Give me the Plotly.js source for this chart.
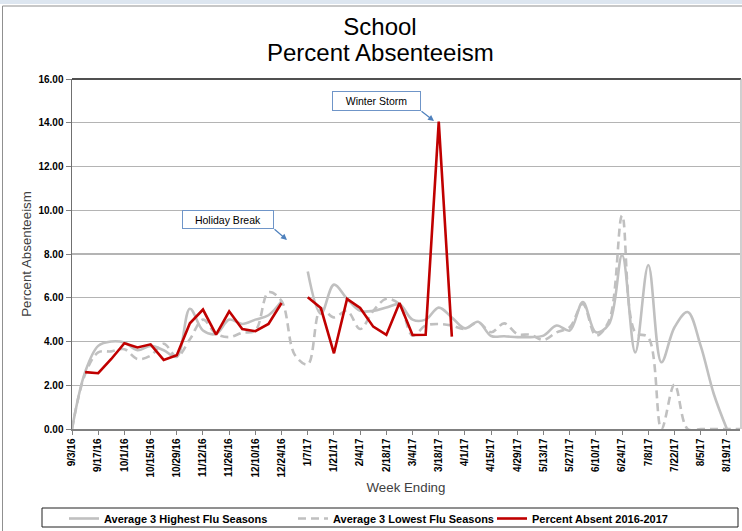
<!DOCTYPE html>
<html>
<head>
<meta charset="utf-8">
<script src="https://cdn.plot.ly/plotly-3.0.1.min.js"></script>
<style>html,body{margin:0;padding:0;background:#fff;}#chart{width:742px;height:531px;}</style>
</head>
<body>
<div id="chart"></div>
<script>
// Week ending dates (x categories)
var weeks = [
 "2016-09-03","2016-09-10","2016-09-17","2016-09-24","2016-10-01","2016-10-08","2016-10-15","2016-10-22",
 "2016-10-29","2016-11-05","2016-11-12","2016-11-19","2016-11-26","2016-12-03","2016-12-10","2016-12-17",
 "2016-12-24","2016-12-31","2017-01-07","2017-01-14","2017-01-21","2017-01-28","2017-02-04","2017-02-11",
 "2017-02-18","2017-02-25","2017-03-04","2017-03-11","2017-03-18","2017-03-25","2017-04-01","2017-04-08",
 "2017-04-15","2017-04-22","2017-04-29","2017-05-06","2017-05-13","2017-05-20","2017-05-27","2017-06-03",
 "2017-06-10","2017-06-17","2017-06-24","2017-07-01","2017-07-08","2017-07-15","2017-07-22","2017-07-29",
 "2017-08-05","2017-08-12","2017-08-19","2017-08-26"
];

// Average 3 Highest Flu Seasons
var highFlu = [
 0, 2.6, 3.8, 4.0, 3.95, 3.6, 3.8, 3.6,
 3.3, 5.5, 4.5, 4.35, 5.0, 4.8, 5.0, 5.2,
 5.85, null, 7.2, 5.26, 6.6, 5.95, 5.4, 5.4,
 5.55, 5.7, 5.0, 5.0, 5.55, 5.1, 4.6, 4.9,
 4.25, 4.24, 4.2, 4.2, 4.27, 4.73, 4.5, 5.8,
 4.42, 4.8, 7.95, 3.5, 7.5, 3.05, 4.65, 5.35,
 3.8, 1.6, 0, null
];

// Average 3 Lowest Flu Seasons
var lowFlu = [
 0, 2.5, 3.5, 3.55, 3.65, 3.2, 3.35, 3.9,
 3.3, 4.1, 5.0, 4.35, 4.2, 4.4, 4.5, 6.25,
 5.85, 3.4, 2.95, 5.5, 5.1, 5.4, 4.57, 5.4,
 5.95, 5.7, 4.27, 4.73, 4.8, 4.73, 4.57, 4.88,
 4.42, 4.83, 4.34, 4.31, 4.07, 4.42, 4.65, 5.72,
 4.27, 4.95, 9.76, 4.42, 4.19, 0, 2.03, 0,
 0, 0, 0, 0
];

// Percent Absent 2016-2017
var absent1617 = [
 null, 2.6, 2.55, 3.2, 3.92, 3.73, 3.87, 3.16,
 3.37, 4.83, 5.46, 4.31, 5.38, 4.57, 4.47, 4.8,
 5.76, null, 6.02, 5.53, 3.46, 5.95, 5.53, 4.68,
 4.3, 5.76, 4.3, 4.31, 14.05, 4.22, null, null,
 null, null, null, null, null, null, null, null,
 null, null, null, null, null, null, null, null,
 null, null, null, null
];

var seriesNames = ["Average 3 Highest Flu Seasons", "Average 3 Lowest Flu Seasons", "Percent Absent 2016-2017"];

// layout geometry (pixels)
var W = 742, H = 531, L = 72, R = 740, T = 79, B = 429;
function px(x){ return (x - L) / (R - L); }
function py(y){ return (B - y) / (B - T); }

var traces = [
 {x: weeks, y: highFlu, name: seriesNames[0], type: 'scatter', mode: 'lines', legend: 'legend',
  line: {color: '#c0c0c0', width: 2.6, shape: 'spline', smoothing: 1}, connectgaps: false},
 {x: weeks, y: lowFlu, name: seriesNames[1], type: 'scatter', mode: 'lines', legend: 'legend2',
  line: {color: '#c0c0c0', width: 2.6, shape: 'spline', smoothing: 1, dash: '8px,5px'}, connectgaps: false},
 {x: weeks, y: absent1617, name: seriesNames[2], type: 'scatter', mode: 'lines', legend: 'legend3',
  line: {color: '#c00000', width: 2.6}, connectgaps: false}
];

var tickFont = {family: '"Liberation Sans", Arial, sans-serif', size: 10, color: '#000', weight: 'bold'};
var axisTitleFont = {family: '"Liberation Sans", Arial, sans-serif', size: 13.3, color: '#404040'};
var legendFont = {family: '"Liberation Sans", Arial, sans-serif', size: 11, color: '#000', weight: 'bold'};

function legendAt(xpx){
 return {orientation: 'h', xref: 'container', yref: 'container', x: xpx / W, xanchor: 'left',
  y: 1 - 504 / H, yanchor: 'top', font: legendFont, bgcolor: 'rgba(0,0,0,0)', borderwidth: 0};
}

var layout = {
 width: W, height: H,
 margin: {l: L, r: W - R, t: T, b: H - B, pad: 0, autoexpand: false},
 paper_bgcolor: '#fff', plot_bgcolor: '#fff',
 showlegend: true,
 title: {text: 'School', x: 380 / W, xanchor: 'center', y: 1 - 27 / H, yanchor: 'middle', yref: 'container',
  font: {family: '"Liberation Sans", Arial, sans-serif', size: 24, color: '#000'}},
 xaxis: {
  type: 'date', range: ['2016-09-03', '2017-08-26'],
  tickmode: 'linear', tick0: '2016-09-03', dtick: 14 * 86400000,
  tickformat: '%-m/%-d/%y', tickangle: -90, tickfont: tickFont,
  ticks: 'outside', ticklen: 4, tickcolor: '#808080', tickwidth: 1,
  showgrid: false, showline: true, linecolor: '#808080', linewidth: 1.5, zeroline: false,
  automargin: false,
  title: {text: 'Week Ending', font: axisTitleFont, standoff: 6}
 },
 yaxis: {
  range: [0, 16], dtick: 2, tickformat: '.2f', tickfont: tickFont,
  ticks: 'outside', ticklen: 5, tickcolor: '#808080', tickwidth: 1,
  showgrid: true, gridcolor: '#b4b4b4', gridwidth: 1.3,
  showline: true, linecolor: '#707070', linewidth: 1.5, zeroline: false,
  automargin: false,
  title: {text: 'Percent Absenteeism', font: axisTitleFont, standoff: 4}
 },
 legend: legendAt(64),
 legend2: legendAt(293),
 legend3: legendAt(492),
 shapes: [
  // top border of plot area
  {type: 'line', xref: 'paper', yref: 'paper', x0: 0, x1: px(741), y0: 1, y1: 1, line: {color: '#505050', width: 2}},
  // right border of plot area
  {type: 'line', xref: 'paper', yref: 'paper', x0: px(741), x1: px(741), y0: 0, y1: 1, line: {color: '#b0b0b0', width: 1.2}},
  // outer chart border
  {type: 'line', xref: 'paper', yref: 'paper', x0: px(2.5), x1: px(742), y0: py(6), y1: py(6), line: {color: '#909090', width: 1}},
  {type: 'line', xref: 'paper', yref: 'paper', x0: px(2.5), x1: px(2.5), y0: py(6), y1: py(531), line: {color: '#909090', width: 1}},
  // light strip at top
  {type: 'rect', xref: 'paper', yref: 'paper', x0: px(0), x1: px(742), y0: py(0), y1: py(4), fillcolor: '#dde6f0', line: {width: 0}},
  // legend frame
  {type: 'rect', xref: 'paper', yref: 'paper', x0: px(42), x1: px(738), y0: py(508), y1: py(527), line: {color: '#202020', width: 1}, fillcolor: 'rgba(0,0,0,0)'}
 ],
 annotations: [
  {text: 'Percent Absenteeism', xref: 'paper', yref: 'paper', x: px(380), y: py(52.5), xanchor: 'center', yanchor: 'middle', showarrow: false,
   font: {family: '"Liberation Sans", Arial, sans-serif', size: 24, color: '#000'}},
  {text: 'Holiday Break', xref: 'paper', yref: 'paper', x: px(228), y: py(219.5), xanchor: 'center', yanchor: 'middle', showarrow: false,
   width: 88, height: 15, bgcolor: '#fff', bordercolor: '#6f95c8', borderwidth: 1, borderpad: 1,
   font: {family: '"Liberation Sans", Arial, sans-serif', size: 10.5, color: '#000'}},
  {text: '', xref: 'paper', yref: 'paper', x: px(287), y: py(240), ax: -14, ay: -12, showarrow: true,
   arrowhead: 2, arrowsize: 1, arrowwidth: 1.2, arrowcolor: '#4f81bd'},
  {text: 'Winter Storm', xref: 'paper', yref: 'paper', x: px(376.5), y: py(101), xanchor: 'center', yanchor: 'middle', showarrow: false,
   width: 85, height: 16, bgcolor: '#fff', bordercolor: '#6f95c8', borderwidth: 1, borderpad: 1,
   font: {family: '"Liberation Sans", Arial, sans-serif', size: 10.5, color: '#000'}},
  {text: '', xref: 'paper', yref: 'paper', x: px(434), y: py(121), ax: -14, ay: -11, showarrow: true,
   arrowhead: 2, arrowsize: 1, arrowwidth: 1.2, arrowcolor: '#4f81bd'}
 ]
};

Plotly.newPlot('chart', traces, layout, {displayModeBar: false, staticPlot: true});
</script>
</body>
</html>
